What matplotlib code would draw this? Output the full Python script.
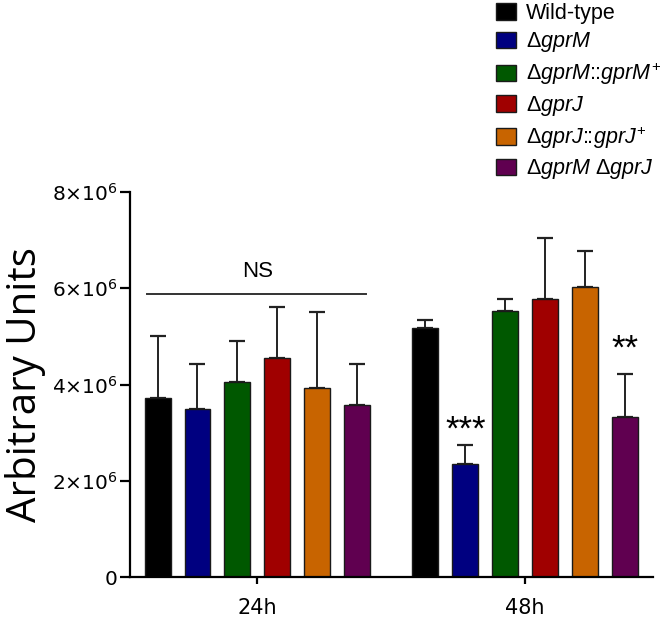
import matplotlib.pyplot as plt
import numpy as np
from matplotlib.ticker import FuncFormatter

plt.rcParams['font.family'] = ['Liberation Sans', 'DejaVu Sans']
plt.rcParams['mathtext.fontset'] = 'custom'
plt.rcParams['mathtext.rm'] = 'Liberation Sans'
plt.rcParams['mathtext.it'] = 'Liberation Sans:italic'
plt.rcParams['mathtext.bf'] = 'Liberation Sans:bold'

# дані
timepoints = ['24h', '48h']
strains = [
    'Wild-type',
    r'$\Delta\mathit{gprM}$',
    r'$\Delta\mathit{gprM}\!:\!\!\!:\!\mathit{gprM}^{+}$',
    r'$\Delta\mathit{gprJ}$',
    r'$\Delta\mathit{gprJ}\!:\!\!\!:\!\mathit{gprJ}^{+}$',
    r'$\Delta\mathit{gprM}\ \Delta\mathit{gprJ}$',
]
colors = ['#000000', '#000080', '#005800', '#a00000', '#c86400', '#600050']

means_24h = [3.72e6, 3.49e6, 4.05e6, 4.55e6, 3.93e6, 3.58e6]
errs_24h = [1.29e6, 0.94e6, 0.86e6, 1.06e6, 1.58e6, 0.85e6]
means_48h = [5.17e6, 2.35e6, 5.53e6, 5.78e6, 6.03e6, 3.33e6]
errs_48h = [0.17e6, 0.39e6, 0.25e6, 1.27e6, 0.75e6, 0.89e6]
signif_48h = ['', '***', '', '', '', '**']

means = np.array([means_24h, means_48h])
errs = np.array([errs_24h, errs_48h])

fig = plt.figure(figsize=(6.66, 6.17), dpi=100)
ax = fig.add_axes([0.195, 0.0648, 0.785, 0.624])

group_x = np.arange(len(timepoints))
step = 0.149
width = 0.097
for i, (name, col) in enumerate(zip(strains, colors)):
    xs = group_x + (i - 2.5) * step
    ax.bar(xs, means[:, i], width=width, color=col, edgecolor='#1a1a1a',
           linewidth=1.0, label=name, zorder=2)
    ax.errorbar(xs, means[:, i], yerr=[np.zeros(2), errs[:, i]], fmt='none',
                ecolor='#222222', elinewidth=1.4, capsize=6, capthick=1.6, zorder=1)

# зірочки значущості
star_pad = {'***': 0.11e6, '**': 0.32e6}
for i, s in enumerate(signif_48h):
    if s:
        x = group_x[1] + (i - 2.5) * step
        ax.text(x, means_48h[i] + errs_48h[i] + star_pad[s], s, ha='center',
                va='baseline', fontsize=25)

# NS
ax.plot([-0.412, 0.405], [5.88e6, 5.88e6], color='#333333', lw=1.4)
ax.text(0, 6.12e6, 'NS', ha='center', va='bottom', fontsize=16)

ax.set_xlim(-0.476, 1.476)
ax.set_ylim(0, 8e6)
ax.set_yticks([0, 2e6, 4e6, 6e6, 8e6])
ax.set_xticks(group_x)
ax.set_xticklabels(timepoints, fontsize=15, family='DejaVu Sans')


def fmt(v, pos):
    if v == 0:
        return '0'
    return r'$%d{\times}10^{6}$' % round(v / 1e6)


ax.yaxis.set_major_formatter(FuncFormatter(fmt))
for lab in ax.get_yticklabels():
    lab.set_fontsize(14.5)
    lab.set_math_fontfamily('dejavusans')
    lab.set_family('DejaVu Sans')

ax.spines['top'].set_visible(False)
ax.spines['right'].set_visible(False)
ax.spines['left'].set_linewidth(1.6)
ax.spines['bottom'].set_linewidth(1.6)
ax.tick_params(axis='y', length=7, width=1.6, pad=2)
ax.tick_params(axis='x', length=5, width=1.6, pad=10)

ax.set_ylabel('Arbitrary Units', fontsize=29, family='Open Sans', labelpad=4)

ax.legend(loc='upper left', bbox_to_anchor=(496 / 666, 1 - 3 / 617),
          bbox_transform=fig.transFigure, frameon=False, fontsize=15.5,
          handlelength=0.93, handleheight=0.8, handletextpad=0.45,
          labelspacing=0.3, borderpad=0, borderaxespad=0)

fig.savefig('out.png', dpi=100)
